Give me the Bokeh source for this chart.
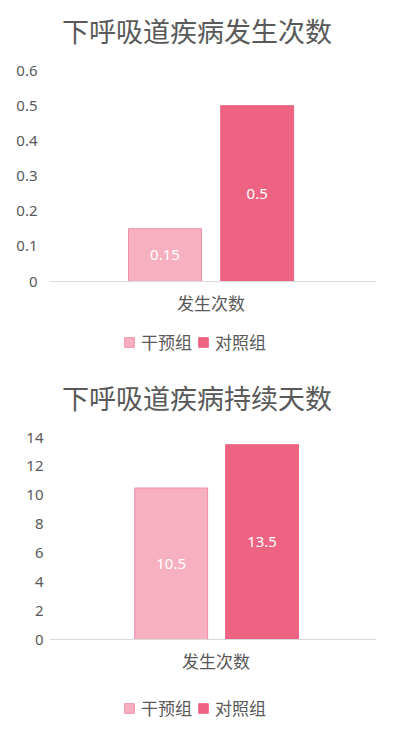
from bokeh.plotting import figure
from bokeh.models import ColumnDataSource, LabelSet, Legend, LegendItem, FixedTicker, Range1d, Span
from bokeh.core.properties import value
from bokeh.transform import dodge
from bokeh.layouts import column
from bokeh.embed import file_html
from bokeh.resources import INLINE

# ---- data ----
category = ["发生次数"]
series = ["干预组", "对照组"]
title1 = "下呼吸道疾病发生次数"
values1 = [0.15, 0.5]
labels1 = ["0.15", "0.5"]
ticks1 = [0, 0.1, 0.2, 0.3, 0.4, 0.5, 0.6]
title2 = "下呼吸道疾病持续天数"
values2 = [10.5, 13.5]
labels2 = ["10.5", "13.5"]
ticks2 = [0, 2, 4, 6, 8, 10, 12, 14]

CJK = "Noto Sans CJK SC"
NUM = "Noto Sans"
GREY = "#595959"
FILLS = ["#F7B0C0", "#EE6382"]
LINES = ["#F08CA6", "#EE6382"]

W, H = 399, 366


def make(title, values, labels, ticks, ymax, zero_px, top_px, title_px, offs, cat_dx, standoff):
    # zero_px / top_px / title_px: pixel rows (from the figure top) of value 0, of ymax and of the title
    scale = (zero_px - top_px) / ymax
    p = figure(x_range=category, y_range=Range1d(-(H - zero_px) / scale, zero_px / scale),
               width=W, height=H, output_backend="svg", toolbar_location=None,
               min_border_left=49, min_border_right=23, min_border_top=0, min_border_bottom=0)
    p.outline_line_color = None
    p.xgrid.grid_line_color = None
    p.ygrid.grid_line_color = None
    p.xaxis.visible = False

    p.add_layout(Span(location=0, dimension="width", line_color="#D9D9D9", line_width=1))

    items = []
    for i, s in enumerate(series):
        src = ColumnDataSource(dict(cat=category, val=[values[i]], half=[values[i] / 2], lab=[labels[i]]))
        r = p.vbar(x=dodge("cat", offs[i], range=p.x_range), top="val", width=0.223, source=src,
                   fill_color=FILLS[i], line_color=LINES[i], line_width=1)
        p.add_layout(LabelSet(x=dodge("cat", offs[i], range=p.x_range), y="half", text="lab", source=src,
                              text_align="center", text_baseline="middle", text_color="white",
                              text_font=value(NUM), text_font_size="15px"))
        items.append(LegendItem(label=s, renderers=[r]))

    # title and category label drawn inside the (extended) frame
    tsrc = ColumnDataSource(dict(cat=category, y=[(zero_px - title_px) / scale], t=[title]))
    p.add_layout(LabelSet(x="cat", y="y", text="t", source=tsrc, x_offset=-16,
                          text_align="center", text_baseline="middle", text_color=GREY,
                          text_font=value(CJK), text_font_size="27px"))
    csrc = ColumnDataSource(dict(cat=category, y=[-21 / scale]))
    p.add_layout(LabelSet(x="cat", y="y", text="cat", source=csrc, x_offset=cat_dx,
                          text_align="center", text_baseline="middle", text_color=GREY,
                          text_font=value(CJK), text_font_size="17px"))

    p.yaxis.ticker = FixedTicker(ticks=ticks)
    p.yaxis.major_label_overrides = {0: "0"}
    p.yaxis.axis_line_color = None
    p.yaxis.major_tick_line_color = None
    p.yaxis.minor_tick_line_color = None
    p.yaxis.major_tick_out = 0
    p.yaxis.major_tick_in = 0
    p.yaxis.major_label_text_font = NUM
    p.yaxis.major_label_text_font_size = "15px"
    p.yaxis.major_label_text_color = GREY
    p.yaxis.major_label_standoff = standoff

    leg = Legend(items=items, orientation="horizontal", location=(74, 12),
                 label_text_font=CJK, label_text_font_size="17px", label_text_color=GREY,
                 glyph_width=12, glyph_height=12, label_standoff=6, spacing=5,
                 padding=0, margin=0)
    leg.border_line_color = None
    leg.background_fill_alpha = 0
    leg.inactive_fill_alpha = 0
    p.add_layout(leg)
    return p


p1 = make(title1, values1, labels1, ticks1, 0.6, 281, 70, 30, (-0.147, 0.135), -2, 12)
p2 = make(title2, values2, labels2, ticks2, 14, 273, 71, 31, (-0.128, 0.150), 3, 6)
layout = column(p1, p2)
open("out.html", "w").write(file_html(layout, INLINE))
